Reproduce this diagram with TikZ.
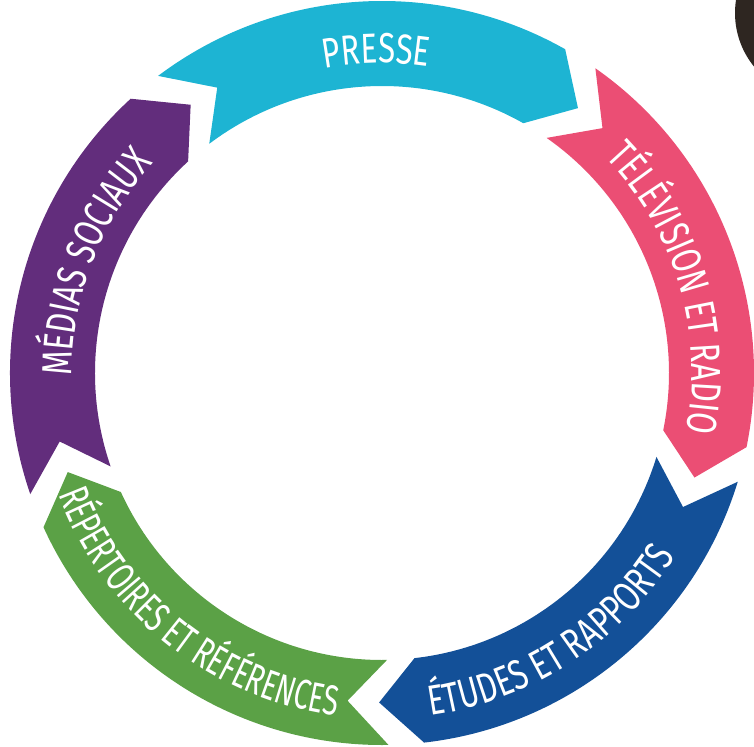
\documentclass[tikz,border=0pt]{standalone}
\usepackage{fontspec}
\newfontfamily\ringfont[FakeStretch=0.74]{Fira Sans}
\newfontfamily\ringfontnarrow[FakeStretch=0.67]{Fira Sans}
\usetikzlibrary{decorations.text}

\definecolor{presse}{HTML}{1DB4D3}
\definecolor{tele}{HTML}{EB4E74}
\definecolor{etudes}{HTML}{135098}
\definecolor{repert}{HTML}{5BA146}
\definecolor{medias}{HTML}{622D7C}
\definecolor{inkdark}{HTML}{2E2621}
\newcommand{\lblfont}{\ringfont\fontsize{42}{44}\selectfont}
\newcommand{\lblfontnarrow}{\ringfontnarrow\fontsize{42}{44}\selectfont}

\begin{document}
\begin{tikzpicture}[x=1pt, y=1pt,
    label cw/.style={decorate, decoration={text along path, text align=center, text color=white}},
    label ccw/.style={decorate, decoration={text along path, text align=center, text color=white}}]
\useasboundingbox (-382,-373) rectangle (372,373);

\fill[inkdark] (438,360) circle (85);

% ring segments, clockwise, notch at start and tip at end
\foreach \s/\col in {127/presse, 55/tele, -17/etudes, -89/repert, -161/medias}
    \fill[\col] (\s:372) arc[start angle=\s, end angle=\s-66.5, radius=372]
        -- (\s-73.5:329.5) -- (\s-66.5:287)
        arc[start angle=\s-66.5, end angle=\s, radius=287]
        -- (\s-7:329.5) -- cycle;

% labels
\path[label cw, decoration={text={|\lblfont|PRESSE}}]
    (141:310) arc[start angle=141, end angle=41, radius=310];
\path[label cw, decoration={text={|\lblfont|TÉLÉVISION ET RADIO}}]
    (66.5:310) arc[start angle=66.5, end angle=-33.5, radius=310];
\path[label ccw, decoration={text={|\lblfont|ÉTUDES ET RAPPORTS}}]
    (-107:346) arc[start angle=-107, end angle=-7, radius=346];
\path[label ccw, decoration={text={|\lblfontnarrow|RÉPERTOIRES ET RÉFÉRENCES}}]
    (-178.5:346) arc[start angle=-178.5, end angle=-78.5, radius=346];
\path[label cw, decoration={text={|\lblfont|MÉDIAS SOCIAUX}}]
    (209:310) arc[start angle=209, end angle=109, radius=310];
\end{tikzpicture}
\end{document}
